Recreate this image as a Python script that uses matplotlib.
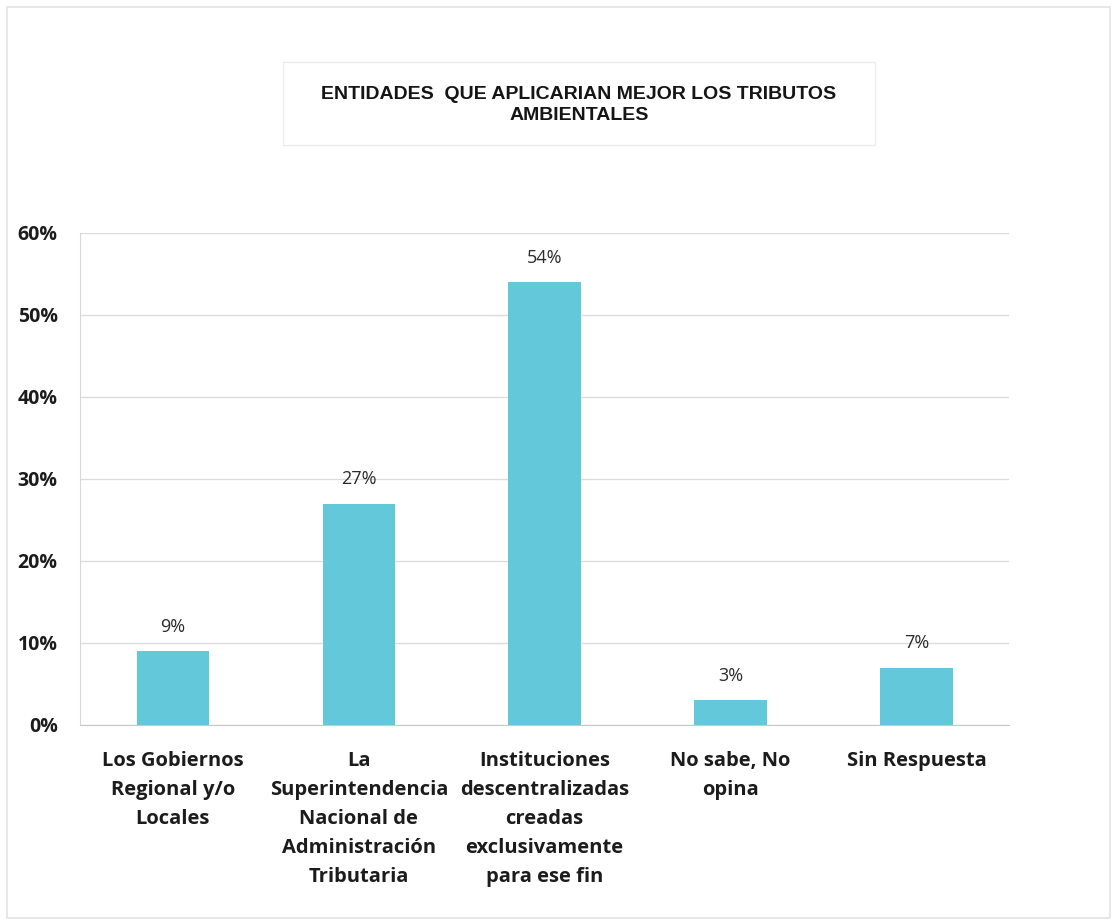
import matplotlib
matplotlib.use("Agg")
import matplotlib.pyplot as plt
from matplotlib.patches import Rectangle
from matplotlib.ticker import FuncFormatter

# Survey answers: which entity would best apply environmental taxes
categories = [
    "Los Gobiernos\nRegional y/o\nLocales",
    "La\nSuperintendencia\nNacional de\nAdministración\nTributaria",
    "Instituciones\ndescentralizadas\ncreadas\nexclusivamente\npara ese fin",
    "No sabe, No\nopina",
    "Sin Respuesta",
]
shares = [9, 27, 54, 3, 7]
yticks = [0, 10, 20, 30, 40, 50, 60]
title = "ENTIDADES  QUE APLICARIAN MEJOR LOS TRIBUTOS\nAMBIENTALES"

BAR_COLOR = "#63C8DA"
LABEL_FONT = "Open Sans"

fig = plt.figure(figsize=(11.17, 9.24), dpi=100)
fig.patch.set_facecolor("white")

# faint outer frame of the chart object
fig.add_artist(Rectangle((0.006, 0.007), 0.988, 0.985, transform=fig.transFigure,
                         fill=False, edgecolor="#e4e4e4", linewidth=1.2))

ax = fig.add_axes([0.0716, 0.2154, 0.832, 0.5326])
x = list(range(len(categories)))
ax.bar(x, shares, width=0.39, color=BAR_COLOR, zorder=3)

ax.set_xlim(-0.5, len(categories) - 0.5)
ax.set_ylim(0, 60)
ax.set_yticks(yticks)
ax.yaxis.set_major_formatter(FuncFormatter(lambda v, _: f"{v:.0f}%"))
ax.grid(axis="y", color="#dcdcdc", linewidth=1.0, zorder=0)

for side in ("top", "right"):
    ax.spines[side].set_visible(False)
ax.spines["left"].set_color("#d8d8d8")
ax.spines["bottom"].set_color("#c8c8c8")
ax.tick_params(axis="y", length=0, pad=16)
ax.tick_params(axis="x", length=0, pad=19)

ax.set_xticks(x)
ax.set_xticklabels(categories, fontfamily=LABEL_FONT, fontweight="bold",
                   fontsize=14.5, color="#1c1c1c", linespacing=1.6)
for lbl in ax.get_yticklabels():
    lbl.set_fontfamily(LABEL_FONT)
    lbl.set_fontweight("bold")
    lbl.set_fontsize(14)
    lbl.set_color("#1c1c1c")

for xi, v in zip(x, shares):
    ax.annotate(f"{v}%", (xi, v), xytext=(0, 11), textcoords="offset points",
                ha="center", va="bottom", fontfamily=LABEL_FONT,
                fontsize=13, color="#2a2a2a")

# title inside a faint box
fig.add_artist(Rectangle((283 / 1117, 1 - 145 / 924), (875 - 283) / 1117, 83 / 924,
                         transform=fig.transFigure, fill=False,
                         edgecolor="#ececec", linewidth=1.0))
fig.text(579 / 1117, 1 - 105 / 924, title, ha="center", va="center",
         fontfamily="Liberation Sans", fontweight="bold", fontsize=14,
         color="#151515", linespacing=1.3)

fig.savefig("out.png", dpi=100, facecolor="white")
